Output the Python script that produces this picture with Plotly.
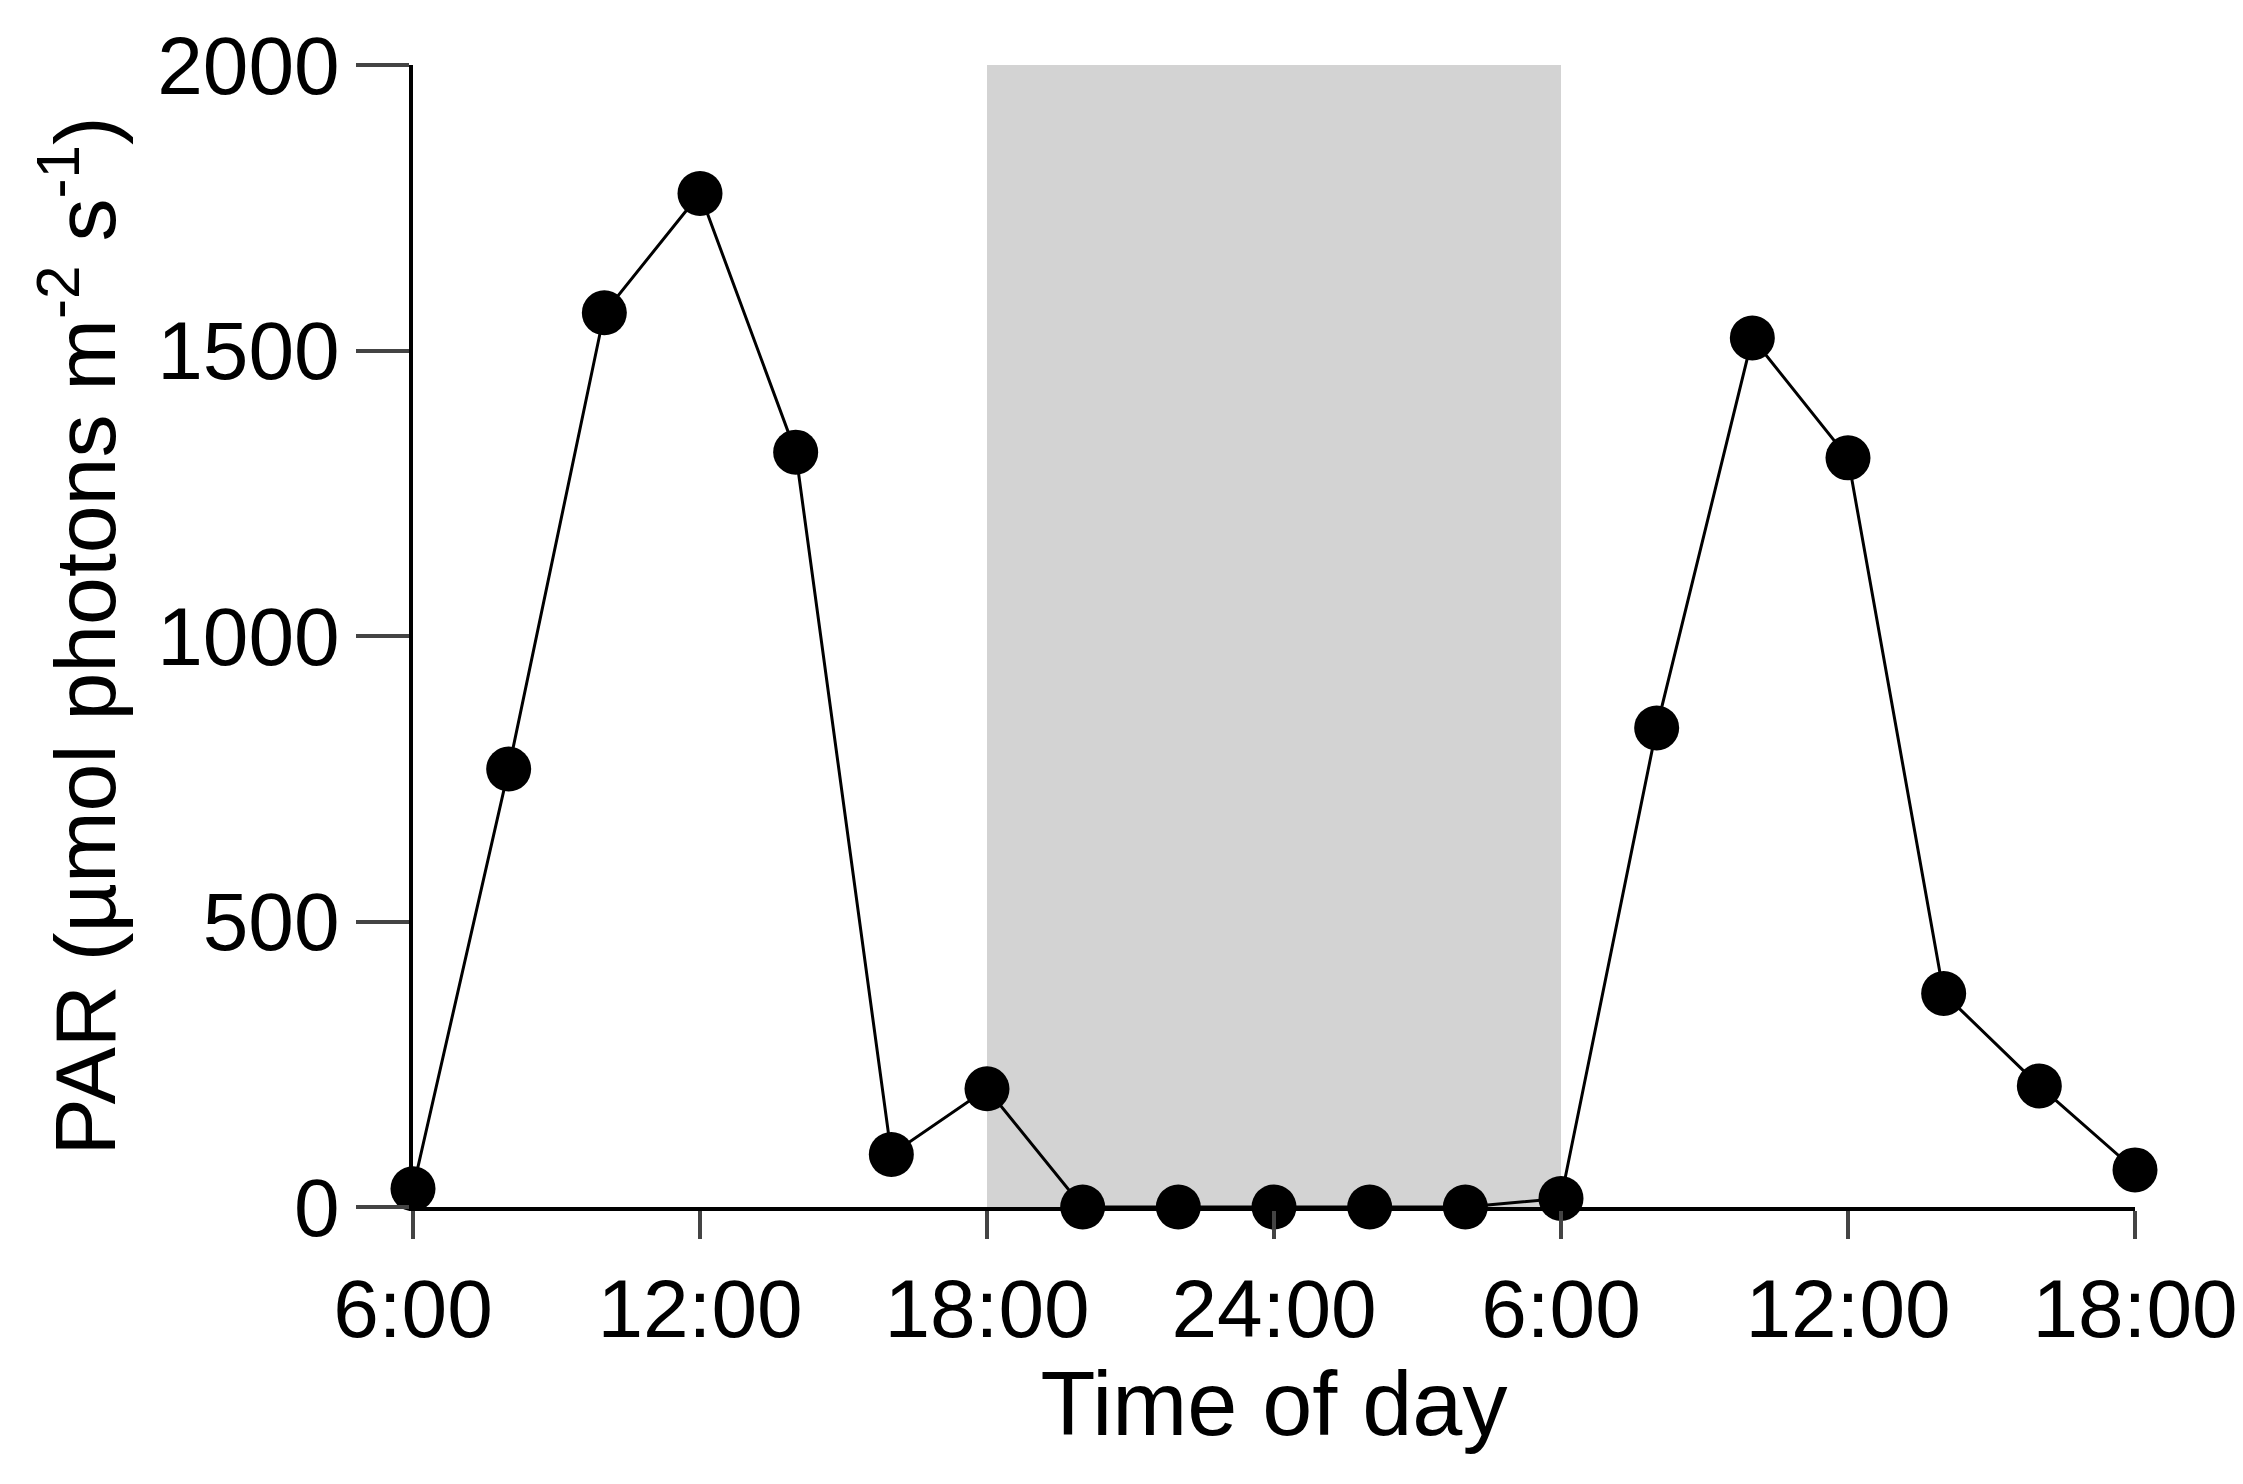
import plotly.graph_objects as go

hours = [6, 8, 10, 12, 14, 16, 18, 20, 22, 24, 26, 28, 30, 32, 34, 36, 38, 40, 42]
par = [32, 767, 1566, 1775, 1322, 92, 207, 0, 0, 0, 0, 0, 15, 839, 1522, 1312, 374, 212, 65]
tick_vals = [6, 12, 18, 24, 30, 36, 42]
tick_text = ["6:00", "12:00", "18:00", "24:00", "6:00", "12:00", "18:00"]
night_start, night_end = 18, 30

fig = go.Figure()
fig.add_shape(type="rect", x0=night_start, x1=night_end, y0=0, y1=2000,
              xref="x", yref="y", fillcolor="#d3d3d3", line_width=0, layer="below")
fig.add_trace(go.Scatter(x=hours, y=par, mode="lines+markers",
                         line=dict(color="black", width=3),
                         marker=dict(color="black", size=45), cliponaxis=False))
font = "Liberation Sans, Arial, sans-serif"
fig.update_layout(
    width=2243, height=1484, plot_bgcolor="white", paper_bgcolor="white",
    margin=dict(l=405, r=116, t=53, b=285), showlegend=False,
    font=dict(family=font, color="black"),
    xaxis=dict(range=[6, 42], tickvals=tick_vals, ticktext=tick_text,
               showline=True, linecolor="black", linewidth=4, ticks="outside",
               ticklen=28, tickwidth=4, showgrid=False, zeroline=False,
               tickfont=dict(size=82),
               title=dict(text="Time of day", font=dict(size=90), standoff=0)),
    yaxis=dict(range=[0, 2000], tickvals=[0, 500, 1000, 1500, 2000],
               showline=True, linecolor="black", linewidth=4, ticks="outside",
               ticklen=53, tickwidth=4, showgrid=False, zeroline=False,
               tickfont=dict(size=82),
               title=dict(text="PAR (µmol photons m<sup>-2</sup> s<sup>-1</sup>)",
                          font=dict(size=86), standoff=14)),
)
fig.write_html("out.html")
